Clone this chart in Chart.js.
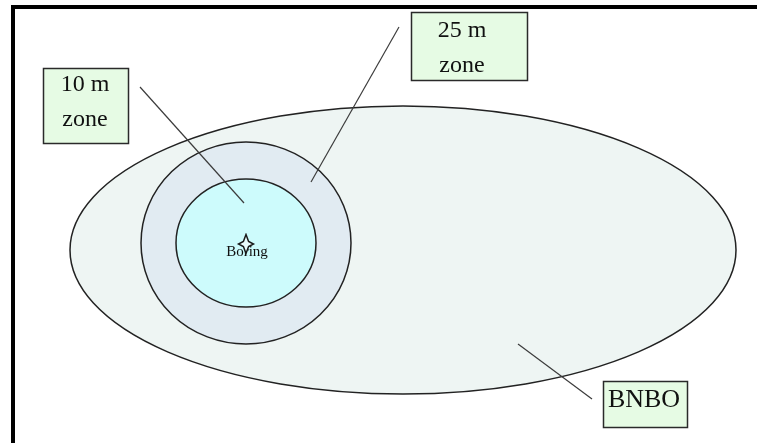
<!DOCTYPE html>
<html>
<head>
<meta charset="utf-8">
<script src="https://cdn.jsdelivr.net/npm/chart.js@4/dist/chart.umd.min.js"></script>
<style>
  html, body { margin: 0; padding: 0; background: #ffffff; }
  #zones { display: block; }
</style>
</head>
<body>
<canvas id="zones" width="757" height="443"></canvas>
<script>
/* Zones around the boring (plane units, y runs downwards) */
const zoneNames = ['BNBO', '25 m zone', '10 m zone'];
const zoneCenterX = [403, 246, 246];
const zoneCenterY = [250, 243, 243];
const zoneRadiusX = [333, 105, 70];
const zoneRadiusY = [144, 101, 64];

/* The boring itself */
const boringLabel = ['Boring'];
const boringX = [246];
const boringY = [244];

/* Callout labels and where their pointer lines run */
const calloutText = [['10 m', 'zone'], ['25 m', 'zone'], ['BNBO']];
const pointerFromX = [140, 399, 518];
const pointerFromY = [87, 27, 344];
const pointerToX = [244, 311, 592];
const pointerToY = [203, 182, 399];

/* Styling and box layout, kept apart from the values */
const zoneFills = ['#eef5f3', '#e1ebf2', '#cdfbfc'];
const calloutLayout = [
    { box: [43, 68, 128, 143], textX: 85, baselines: [91, 126], size: 24 },
    { box: [411, 12, 527, 80], textX: 462, baselines: [37, 72], size: 24 },
    { box: [603, 381, 687, 427], textX: 644, baselines: [407], size: 26 }
];
const serif = '"Liberation Serif", "DejaVu Serif", serif';

/* Four pointed star used as the boring marker */
function makeStar() {
    const c = document.createElement('canvas');
    c.width = 20;
    c.height = 22;
    const g = c.getContext('2d');
    const cx = 10, cy = 11, ry = 9.5, rx = 7.5, inner = 2.6;
    g.beginPath();
    g.moveTo(cx, cy - ry);
    g.lineTo(cx + inner, cy - inner);
    g.lineTo(cx + rx, cy);
    g.lineTo(cx + inner, cy + inner);
    g.lineTo(cx, cy + ry);
    g.lineTo(cx - inner, cy + inner);
    g.lineTo(cx - rx, cy);
    g.lineTo(cx - inner, cy - inner);
    g.closePath();
    g.fillStyle = '#e8fbfb';
    g.fill();
    g.lineWidth = 1.5;
    g.strokeStyle = '#1a1a1a';
    g.stroke();
    return c;
}

/* Ellipses for the zones plus the boring caption, under the datasets */
const zonePlugin = {
    id: 'zonePlugin',
    beforeDatasetsDraw(chart) {
        const { ctx, scales: { x, y } } = chart;
        ctx.save();
        for (let i = 0; i < zoneNames.length; i++) {
            const px = x.getPixelForValue(zoneCenterX[i]);
            const py = y.getPixelForValue(zoneCenterY[i]);
            const rx = Math.abs(x.getPixelForValue(zoneCenterX[i] + zoneRadiusX[i]) - px);
            const ry = Math.abs(y.getPixelForValue(zoneCenterY[i] + zoneRadiusY[i]) - py);
            ctx.beginPath();
            ctx.ellipse(px, py, rx, ry, 0, 0, Math.PI * 2);
            ctx.fillStyle = zoneFills[i];
            ctx.fill();
            ctx.lineWidth = 1.5;
            ctx.strokeStyle = '#222222';
            ctx.stroke();
        }
        ctx.fillStyle = '#111111';
        ctx.font = '15px ' + serif;
        ctx.textAlign = 'center';
        ctx.textBaseline = 'alphabetic';
        ctx.fillText(boringLabel[0], x.getPixelForValue(boringX[0]) + 1, y.getPixelForValue(boringY[0]) + 12);
        ctx.restore();
    },
    afterDatasetsDraw(chart) {
        const { ctx, scales: { x, y } } = chart;
        ctx.save();
        calloutLayout.forEach(function(lay, i) {
            const [x0, y0, x1, y1] = lay.box;
            const l = x.getPixelForValue(x0), t = y.getPixelForValue(y0);
            const r = x.getPixelForValue(x1), b = y.getPixelForValue(y1);
            ctx.fillStyle = '#e6fbe4';
            ctx.fillRect(l, t, r - l, b - t);
            ctx.lineWidth = 1.5;
            ctx.strokeStyle = '#2a2a2a';
            ctx.strokeRect(l + 0.5, t + 0.5, r - l, b - t);
            ctx.fillStyle = '#111111';
            ctx.font = lay.size + 'px ' + serif;
            ctx.textAlign = 'center';
            ctx.textBaseline = 'alphabetic';
            calloutText[i].forEach(function(line, j) {
                ctx.fillText(line, x.getPixelForValue(lay.textX), y.getPixelForValue(lay.baselines[j]));
            });
        });
        ctx.restore();
    },
    afterDraw(chart) {
        /* black picture frame, open to the right and bottom */
        const ctx = chart.ctx;
        ctx.save();
        ctx.lineWidth = 4;
        ctx.strokeStyle = '#000000';
        ctx.strokeRect(13, 7, 900, 600);
        ctx.restore();
    }
};

const pointerSets = calloutText.map(function(lines, i) {
    return {
        label: lines.join(' '),
        data: [
            { x: pointerFromX[i], y: pointerFromY[i] },
            { x: pointerToX[i], y: pointerToY[i] }
        ],
        showLine: true,
        borderColor: '#3c3c3c',
        borderWidth: 1.2,
        pointRadius: 0,
        order: 2
    };
});

const boringSet = {
    label: boringLabel[0],
    data: boringX.map(function(v, i) { return { x: v, y: boringY[i] }; }),
    pointStyle: makeStar(),
    pointRadius: 9,
    order: 1
};

new Chart(document.getElementById('zones'), {
    type: 'scatter',
    data: { datasets: pointerSets.concat([boringSet]) },
    options: {
        responsive: false,
        animation: false,
        layout: { padding: 0, autoPadding: false },
        plugins: {
            legend: { display: false },
            tooltip: { enabled: false }
        },
        scales: {
            x: { type: 'linear', min: 0, max: 757, display: false },
            y: { type: 'linear', min: 0, max: 443, reverse: true, display: false }
        }
    },
    plugins: [zonePlugin]
});
</script>
</body>
</html>
